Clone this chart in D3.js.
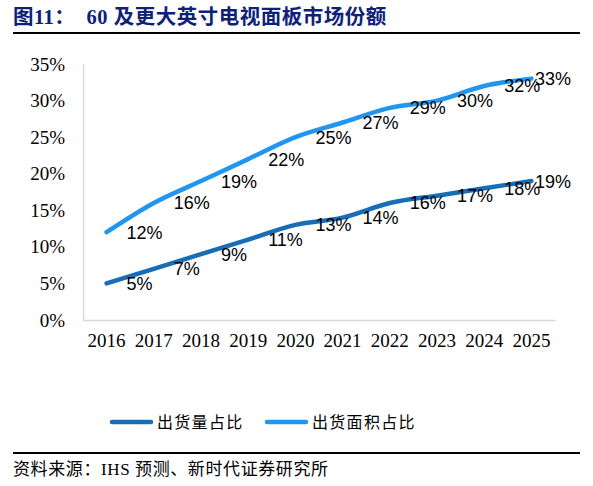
<!DOCTYPE html>
<html>
<head>
<meta charset="utf-8">
<script src="https://cdn.jsdelivr.net/npm/d3@7"></script>
<style>
  body { margin: 0; background: #fff; }
</style>
</head>
<body>
<div id="chart"></div>
<script>
// chart data
var years = ["2016", "2017", "2018", "2019", "2020", "2021", "2022", "2023", "2024", "2025"];
var shipmentShare = [5, 7, 9, 11, 13, 14, 16, 17, 18, 19];
var areaShare = [12, 16, 19, 22, 25, 27, 29, 30, 32, 33];
var yTicks = [0, 5, 10, 15, 20, 25, 30, 35];
var seriesNames = ["出货量占比", "出货面积占比"];
var seriesColors = ["#176db6", "#2196f0"];

var width = 593, height = 486;

var svg = d3.select("#chart").append("svg")
    .attr("width", width)
    .attr("height", height);

// title
svg.append("text")
    .attr("x", 13)
    .attr("y", 24)
    .attr("fill", "#0e2178")
    .style("font-family", "'Liberation Serif', 'Noto Sans CJK SC', serif")
    .style("font-weight", "bold")
    .style("font-size", "20.5px")
    .style("letter-spacing", "0.5px")
    .attr("xml:space", "preserve")
    .text("图11：  60 及更大英寸电视面板市场份额");

svg.append("line")
    .attr("x1", 13).attr("x2", 580)
    .attr("y1", 33).attr("y2", 33)
    .attr("stroke", "#000")
    .attr("stroke-width", 2);

var x = d3.scaleBand()
    .domain(years)
    .range([83, 555]);

var y = d3.scaleLinear()
    .domain([0, 35])
    .range([320, 64]);

// axes
var yAxis = svg.append("g")
    .attr("transform", "translate(83,0)")
    .call(d3.axisLeft(y).tickValues(yTicks).tickSize(0).tickPadding(18)
        .tickFormat(function(d) { return d + "%"; }));

var xAxis = svg.append("g")
    .attr("transform", "translate(0,320)")
    .call(d3.axisBottom(x).tickSize(0).tickPadding(14));

[xAxis, yAxis].forEach(function(g) {
    g.select(".domain").attr("stroke", "#d9d9d9").attr("stroke-width", 1.5);
    g.selectAll("text")
        .attr("fill", "#000")
        .style("font-family", "'Liberation Serif', serif")
        .style("font-size", "19px");
});

var line = d3.line()
    .x(function(d, i) { return x(years[i]) + x.bandwidth() / 2; })
    .y(function(d) { return y(d); })
    .curve(d3.curveMonotoneX);

[shipmentShare, areaShare].forEach(function(values, s) {
    svg.append("path")
        .datum(values)
        .attr("d", line)
        .attr("fill", "none")
        .attr("stroke", seriesColors[s])
        .attr("stroke-width", 4.5)
        .attr("stroke-linecap", "round");

    svg.selectAll(".lbl" + s)
        .data(values)
        .enter().append("text")
        .attr("x", function(d, i) {
            return Math.min(x(years[i]) + x.bandwidth() / 2 + 20, 535);
        })
        .attr("y", function(d) { return y(d); })
        .attr("dy", "0.36em")
        .attr("fill", "#000")
        .style("font-family", "'Liberation Sans', sans-serif")
        .style("font-size", "18px")
        .text(function(d) { return d + "%"; });
});

// legend
var legendX = [112, 267];
seriesNames.forEach(function(name, s) {
    svg.append("line")
        .attr("x1", legendX[s]).attr("x2", legendX[s] + 39)
        .attr("y1", 422).attr("y2", 422)
        .attr("stroke", seriesColors[s])
        .attr("stroke-width", 4.5)
        .attr("stroke-linecap", "round");
    svg.append("text")
        .attr("x", legendX[s] + 45)
        .attr("y", 428)
        .attr("fill", "#000")
        .style("font-family", "'Noto Sans CJK SC', sans-serif")
        .style("font-size", "16px")
        .style("letter-spacing", "1.3px")
        .text(name);
});

// source
svg.append("line")
    .attr("x1", 13).attr("x2", 580)
    .attr("y1", 453).attr("y2", 453)
    .attr("stroke", "#000")
    .attr("stroke-width", 2);

svg.append("text")
    .attr("x", 13)
    .attr("y", 475)
    .attr("fill", "#000")
    .style("font-family", "'Liberation Serif', 'Noto Sans CJK SC', serif")
    .style("font-size", "17px")
    .style("letter-spacing", "0.6px")
    .text("资料来源：IHS 预测、新时代证券研究所");
</script>
</body>
</html>
